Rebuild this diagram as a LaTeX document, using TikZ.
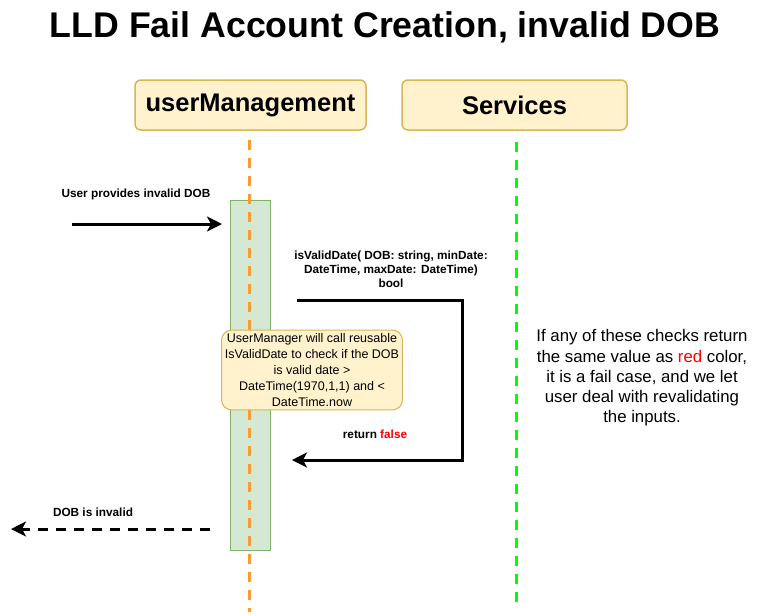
\documentclass[tikz,border=0pt]{standalone}
\usepackage{fontspec}
\setmainfont{Liberation Sans}
\usetikzlibrary{arrows.meta}
\definecolor{noteFill}{HTML}{FFF2CC}
\definecolor{noteDraw}{HTML}{D6B656}
\definecolor{actFill}{HTML}{D5E8D4}
\definecolor{actDraw}{HTML}{82B366}
\definecolor{lifeOrange}{HTML}{FF9933}
\definecolor{lifeGreen}{HTML}{00FF00}
\definecolor{failRed}{HTML}{FF0000}
\tikzset{
  headbox/.style={draw=noteDraw, fill=noteFill, rounded corners=6pt, line width=1.5pt,
    minimum width=231pt, minimum height=50pt, font=\fontsize{25.5}{30}\selectfont\bfseries},
  notebox/.style={draw=noteDraw, fill=noteFill, rounded corners=10pt, line width=1pt,
    minimum width=180pt, minimum height=78pt, align=center, font=\fontsize{12.5}{16}\selectfont},
  actbox/.style={draw=actDraw, fill=actFill, line width=1pt, minimum width=40pt, minimum height=350pt},
  msg/.style={line width=3pt, -{Stealth[length=15pt,width=15pt,inset=4pt]}},
  lbl/.style={font=\fontsize{11.8}{14}\selectfont\bfseries, align=center},
  life/.style={line width=3pt, dash pattern=on 10pt off 8pt},
}
\begin{document}
\begin{tikzpicture}[x=1pt,y=-1pt]
\useasboundingbox (0,0) rectangle (770,614);
\node[font=\fontsize{35.7}{40}\selectfont\bfseries, anchor=base] (title) at (385,37) {LLD Fail Account Creation, invalid DOB};
\node[headbox] (um) at (250.5,105) {userManagement};
\node[headbox, minimum width=225pt] (sv) at (514.5,105) {Services};
% lifelines
\coordinate (umtop) at (249,140);
\coordinate (umbot) at (249,612);
\coordinate (svtop) at (516,142);
\coordinate (svbot) at (516,602);
\node[actbox] (act) at (250,375) {};
\draw[life, lifeOrange] (umtop) -- (umbot);
\draw[life, lifeGreen] (svtop) -- (svbot);
% user request
\coordinate (u1) at (72,224);
\coordinate (u2) at (222,224);
\draw[msg] (u1) -- (u2);
\node[lbl] (l1) at (136,194) {User provides invalid DOB};
% self call
\coordinate (s1) at (297,300);
\coordinate (s2) at (462,300);
\coordinate (s3) at (462,460);
\coordinate (s4) at (292,460);
\draw[msg] (s1) -- (s2) -- (s3) -- (s4);
\node[lbl] (l2) at (391,269) {isValidDate( DOB: string, minDate:\\DateTime, maxDate: DateTime)\\bool};
\node[lbl] (l3) at (375,434) {return \textcolor{failRed}{false}};
% note
\node[notebox] (note) at (312,370) {UserManager will call reusable\\IsValidDate to check if the DOB\\is valid date \textgreater\\DateTime(1970,1,1) and \textless\\DateTime.now};
% return
\coordinate (r1) at (210,529);
\coordinate (r2) at (11,529);
\draw[msg, dash pattern=on 10pt off 8pt] (r1) -- (r2);
\node[lbl] (l4) at (93,512) {DOB is invalid};
% side text
\node[font=\fontsize{16.8}{20.3}\selectfont, align=center] (side) at (642,378) {If any of these checks return\\the same value as \textcolor{failRed}{red} color,\\it is a fail case, and we let\\user deal with revalidating\\the inputs.};
\end{tikzpicture}
\end{document}
